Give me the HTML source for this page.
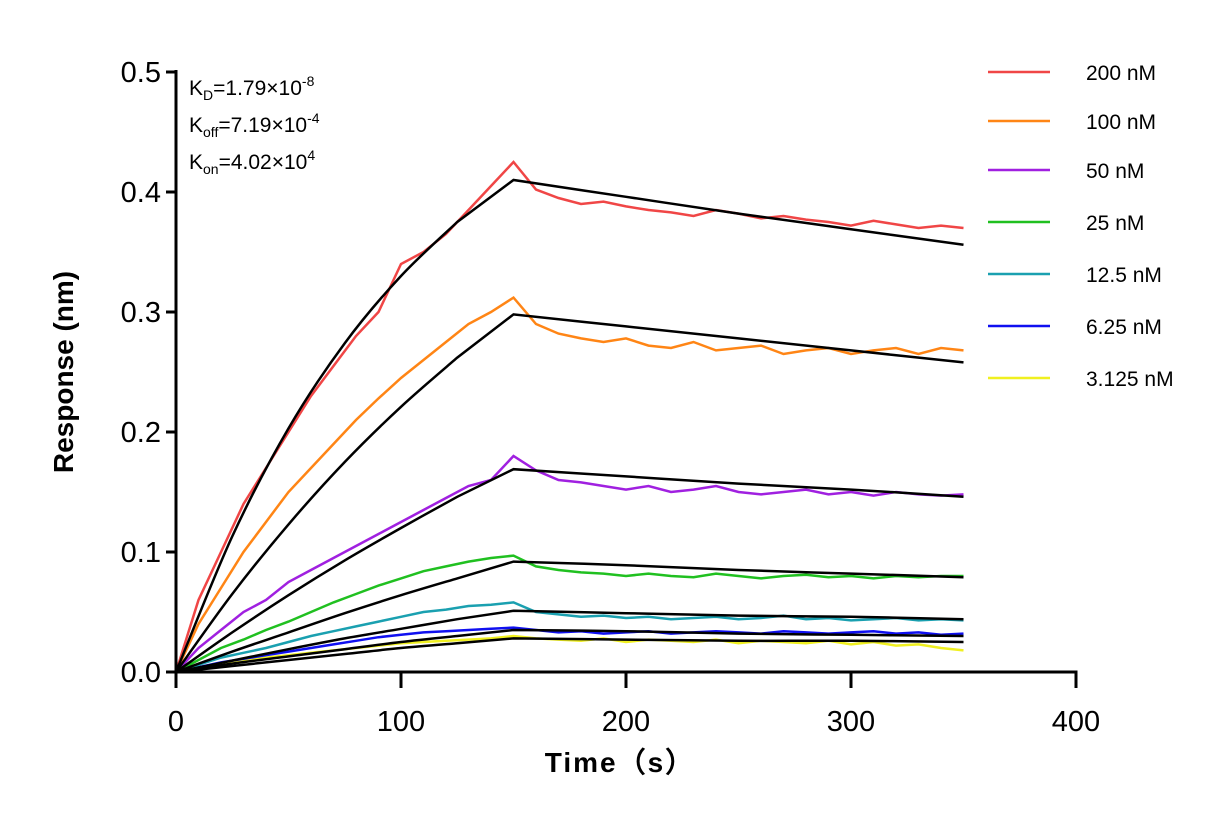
<!DOCTYPE html>
<html><head><meta charset="utf-8"><style>
body{margin:0;background:#fff;}
svg{display:block;font-family:"Liberation Sans",Arial,sans-serif;}
</style></head><body>
<svg id="chart" width="1232" height="825" viewBox="0 0 1232 825">
<g id="fits"></g>
<g id="series"></g>
<g id="axes"></g>
<g font-size="21" fill="#000">
<text x="189" y="95">K<tspan font-size="14" dy="5">D</tspan><tspan dy="-5">=1.79×10</tspan><tspan font-size="14" dy="-9">-8</tspan></text>
<text x="189" y="132">K<tspan font-size="14" dy="5">off</tspan><tspan dy="-5">=7.19×10</tspan><tspan font-size="14" dy="-9">-4</tspan></text>
<text x="189" y="169">K<tspan font-size="14" dy="5">on</tspan><tspan dy="-5">=4.02×10</tspan><tspan font-size="14" dy="-9">4</tspan></text>
</g>
<g id="legend"></g>
<text x="620" y="772" text-anchor="middle" font-size="28" font-weight="bold" letter-spacing="2">Time（s）</text>
<text transform="translate(73,372) rotate(-90)" text-anchor="middle" font-size="28" font-weight="bold">Response (nm)</text>
</svg>
<script>
const labels=["200 nM","100 nM","50 nM","25 nM","12.5 nM","6.25 nM","3.125 nM"];
const colors=["#f04646","#ff8515","#a020e0","#20c020","#1aa0b0","#1010f0","#f0f020"];
const times=[0,10,20,30,40,50,60,70,80,90,100,110,120,130,140,150,160,170,180,190,200,210,220,230,240,250,260,270,280,290,300,310,320,330,340,350];
const d200=[0,.06,.1,.14,.17,.2,.23,.255,.28,.3,.34,.35,.365,.385,.405,.425,.402,.395,.39,.392,.388,.385,.383,.38,.385,.382,.378,.38,.377,.375,.372,.376,.373,.37,.372,.37];
const d100=[0,.04,.07,.1,.125,.15,.17,.19,.21,.228,.245,.26,.275,.29,.3,.312,.29,.282,.278,.275,.278,.272,.27,.275,.268,.27,.272,.265,.268,.27,.265,.268,.27,.265,.27,.268];
const d50=[0,.02,.035,.05,.06,.075,.085,.095,.105,.115,.125,.135,.145,.155,.16,.18,.168,.16,.158,.155,.152,.155,.15,.152,.155,.15,.148,.15,.152,.148,.15,.147,.15,.148,.147,.148];
const d25=[0,.01,.02,.027,.035,.042,.05,.058,.065,.072,.078,.084,.088,.092,.095,.097,.088,.085,.083,.082,.08,.082,.08,.079,.082,.08,.078,.08,.081,.079,.08,.078,.08,.079,.08,.08];
const d12=[0,.006,.012,.016,.02,.025,.03,.034,.038,.042,.046,.05,.052,.055,.056,.058,.05,.048,.046,.047,.045,.046,.044,.045,.046,.044,.045,.047,.044,.045,.043,.044,.045,.043,.044,.043];
const d6=[0,.004,.008,.011,.014,.017,.02,.023,.026,.029,.031,.033,.034,.035,.036,.037,.035,.033,.034,.032,.033,.034,.032,.033,.034,.033,.032,.034,.033,.032,.033,.034,.032,.033,.031,.032];
const d3=[0,.003,.006,.009,.012,.014,.016,.018,.02,.022,.024,.025,.026,.027,.028,.03,.028,.027,.026,.028,.025,.027,.026,.025,.027,.024,.026,.025,.024,.026,.023,.025,.022,.023,.02,.018];
const fitTimes=[0,25,50,75,100,125,150,200,250,300,350];
const f200=[0,.113,.203,.274,.33,.375,.41,.396,.382,.369,.356];
const f100=[0,.065,.123,.175,.221,.262,.298,.288,.278,.268,.258];
const f50=[0,.033,.064,.093,.12,.146,.169,.163,.157,.152,.146];
const f25=[0,.017,.033,.049,.064,.078,.092,.089,.085,.082,.079];
const f12=[0,.0095,.019,.028,.036,.044,.051,.049,.047,.046,.044];
const f6=[0,.007,.013,.019,.025,.03,.035,.034,.032,.031,.03];
const f3=[0,.005,.01,.015,.02,.024,.028,.027,.026,.026,.025];
const xTicks=[0,100,200,300,400];
const yTicks=[0,0.1,0.2,0.3,0.4,0.5];
const dataSets=[d200,d100,d50,d25,d12,d6,d3];
const fitSets=[f200,f100,f50,f25,f12,f6,f3];
const NS="http://www.w3.org/2000/svg";
const X=t=>176+t*2.25, Y=v=>672-v*1200;
function mk(tag,attrs,parent){const e=document.createElementNS(NS,tag);for(const k in attrs)e.setAttribute(k,attrs[k]);parent.appendChild(e);return e;}
function smooth(pts){let d='M'+pts[0][0]+','+pts[0][1];
 for(let i=0;i<pts.length-1;i++){
  const p0=pts[Math.max(i-1,0)],p1=pts[i],p2=pts[i+1],p3=pts[Math.min(i+2,pts.length-1)];
  if(i===5){d+=' L'+p2[0]+','+p2[1];continue;}
  const q0=(i===6)?p1:p0, q3=(i===4)?p2:p3;
  const c1=[p1[0]+(p2[0]-q0[0])/6,p1[1]+(p2[1]-q0[1])/6],c2=[p2[0]-(q3[0]-p1[0])/6,p2[1]-(q3[1]-p1[1])/6];
  d+=' C'+c1+' '+c2+' '+p2;}
 return d;}
const fits=document.getElementById('fits'),ser=document.getElementById('series'),axes=document.getElementById('axes'),leg=document.getElementById('legend');
dataSets.slice().reverse().forEach((d,ri)=>{const i=dataSets.length-1-ri;
 const p=mk('polyline',{points:d.map((v,j)=>X(times[j])+','+Y(v)).join(' '),fill:'none',stroke:colors[i],'stroke-width':2.5},ser);
 
 
});
fitSets.forEach((f,i)=>{
 const pts=f.map((v,j)=>[X(fitTimes[j]),Y(v)]);
 const p=mk('path',{d:smooth(pts),fill:'none',stroke:'#000','stroke-width':2.5},fits);
 
 
});
document.getElementById('chart').appendChild(fits);
const ya=mk('line',{x1:176,y1:70,x2:176,y2:673.5,stroke:'#000','stroke-width':3},axes);


const xa=mk('line',{x1:174.5,y1:672,x2:1077.5,y2:672,stroke:'#000','stroke-width':3},axes);


yTicks.forEach(v=>{mk('line',{x1:166,y1:Y(v),x2:176,y2:Y(v),stroke:'#000','stroke-width':3},axes);
 const t=mk('text',{x:161,y:Y(v)+10,'text-anchor':'end','font-size':29},axes);t.textContent=v.toFixed(1);
 
 });
xTicks.forEach(v=>{mk('line',{x1:X(v),y1:672,x2:X(v),y2:688,stroke:'#000','stroke-width':3},axes);
 const t=mk('text',{x:X(v),y:731,'text-anchor':'middle','font-size':29},axes);t.textContent=v;
 
 });
const ly=[72,121,170,222,274,326,378];
labels.forEach((l,i)=>{const g=mk('g',{},leg);
 
 
 mk('line',{x1:988,y1:ly[i],x2:1050,y2:ly[i],stroke:colors[i],'stroke-width':2.5},g);
 const t=mk('text',{x:1086,y:ly[i]+8,'font-size':21},g);t.textContent=l;});
</script>
</body></html>
